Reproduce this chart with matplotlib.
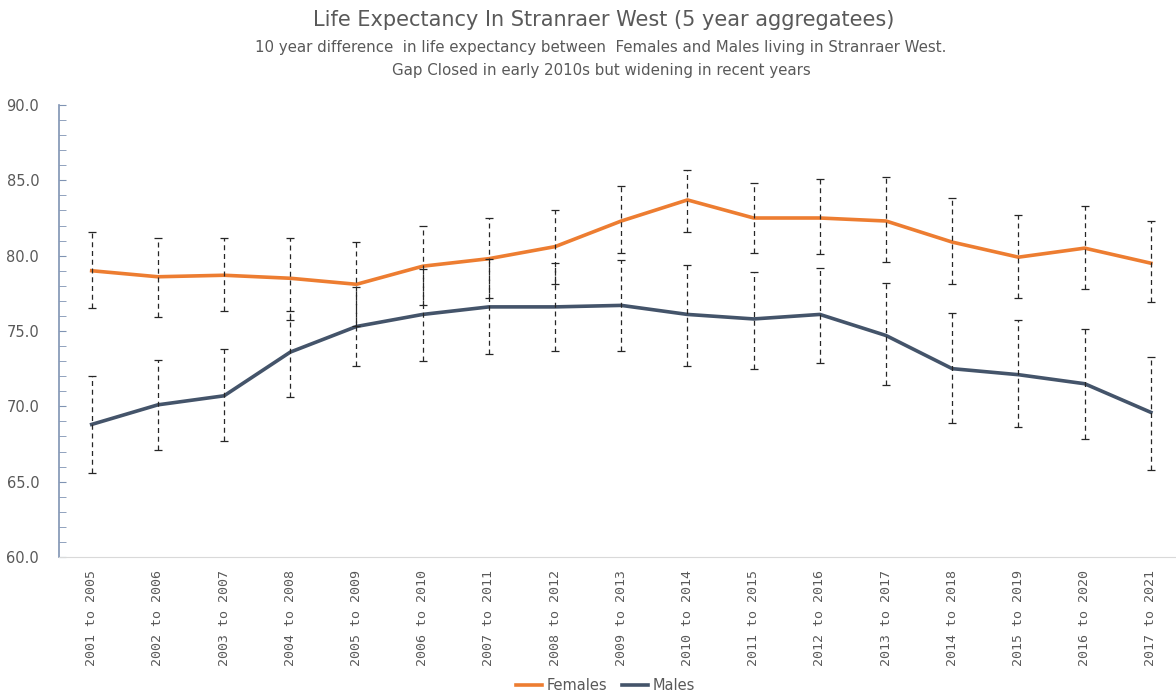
import matplotlib
matplotlib.use("Agg")
import matplotlib.pyplot as plt
from matplotlib.ticker import MultipleLocator

# 5 year aggregate periods
periods = ["2001 to 2005", "2002 to 2006", "2003 to 2007", "2004 to 2008",
           "2005 to 2009", "2006 to 2010", "2007 to 2011", "2008 to 2012",
           "2009 to 2013", "2010 to 2014", "2011 to 2015", "2012 to 2016",
           "2013 to 2017", "2014 to 2018", "2015 to 2019", "2016 to 2020",
           "2017 to 2021"]

females = [79.0, 78.6, 78.7, 78.5, 78.1, 79.3, 79.8, 80.6, 82.3, 83.7,
           82.5, 82.5, 82.3, 80.9, 79.9, 80.5, 79.5]
females_low = [76.5, 75.9, 76.3, 75.7, 75.3, 76.7, 77.2, 78.1, 80.2, 81.6,
               80.2, 80.1, 79.6, 78.1, 77.2, 77.8, 76.9]
females_high = [81.6, 81.2, 81.2, 81.2, 80.9, 82.0, 82.5, 83.0, 84.6, 85.7,
                84.8, 85.1, 85.2, 83.8, 82.7, 83.3, 82.3]

males = [68.8, 70.1, 70.7, 73.6, 75.3, 76.1, 76.6, 76.6, 76.7, 76.1,
         75.8, 76.1, 74.7, 72.5, 72.1, 71.5, 69.6]
males_low = [65.6, 67.1, 67.7, 70.6, 72.7, 73.0, 73.5, 73.7, 73.7, 72.7,
             72.5, 72.9, 71.4, 68.9, 68.6, 67.8, 65.8]
males_high = [72.0, 73.1, 73.8, 76.3, 77.9, 79.1, 79.8, 79.5, 79.7, 79.4,
              78.9, 79.2, 78.2, 76.2, 75.7, 75.1, 73.3]

orange = "#ED7D31"
slate = "#44546A"
grey = "#595959"

fig = plt.figure(figsize=(11.76, 6.95), dpi=100)
ax = fig.add_axes([58.6 / 1176, 1 - 557 / 695, 1 - 58.6 / 1176, (557 - 105) / 695])

x = list(range(len(periods)))

for vals, lo, hi in [(females, females_low, females_high), (males, males_low, males_high)]:
    err = [[v - l for v, l in zip(vals, lo)], [h - v for v, h in zip(vals, hi)]]
    eb = ax.errorbar(x, vals, yerr=err, fmt="none", ecolor="#262626",
                     elinewidth=0.9, capsize=3, capthick=0.9, zorder=3)
    eb[2][0].set_linestyle((0, (4, 3)))

ax.plot(x, females, color=orange, lw=2.6, label="Females", zorder=2)
ax.plot(x, males, color=slate, lw=2.6, label="Males", zorder=2)

ax.set_ylim(60, 90)
ax.set_xlim(-0.5, 16.38)
ax.yaxis.set_major_locator(MultipleLocator(5))
ax.yaxis.set_minor_locator(MultipleLocator(1))
ax.set_yticks(ax.get_yticks())
ax.set_yticklabels([f"{v:.1f}" for v in ax.get_yticks()])
ax.set_ylim(60, 90)

ax.set_xticks(x)
ax.set_xticklabels(periods, rotation=90, family="DejaVu Sans Mono",
                   fontsize=9.5, color=grey)

for s in ["top", "right"]:
    ax.spines[s].set_visible(False)
ax.spines["left"].set_color("#7F93B3")
ax.spines["left"].set_linewidth(1.2)
ax.spines["bottom"].set_color("#D9D9D9")

ax.tick_params(axis="y", which="major", direction="in", length=5,
               color="#7F93B3", labelcolor=grey, labelsize=10.5, pad=14)
ax.tick_params(axis="y", which="minor", direction="in", length=5, color="#7F93B3")
ax.tick_params(axis="x", length=0, pad=9)

fig.text(0.513, 0.971, "Life Expectancy In Stranraer West (5 year aggregatees)",
         ha="center", va="center", fontsize=15, color=grey)
fig.text(0.511, 0.932, "10 year difference  in life expectancy between  Females and Males living in Stranraer West.",
         ha="center", va="center", fontsize=10.8, color=grey)
fig.text(0.511, 0.898, "Gap Closed in early 2010s but widening in recent years",
         ha="center", va="center", fontsize=10.8, color=grey)

fig.legend(loc="center", bbox_to_anchor=(0.515, 0.014), ncol=2, frameon=False,
           handlelength=1.8, columnspacing=1.0, handletextpad=0.3,
           prop={"size": 10.5}, labelcolor=grey)

fig.savefig("out.png", dpi=100)
